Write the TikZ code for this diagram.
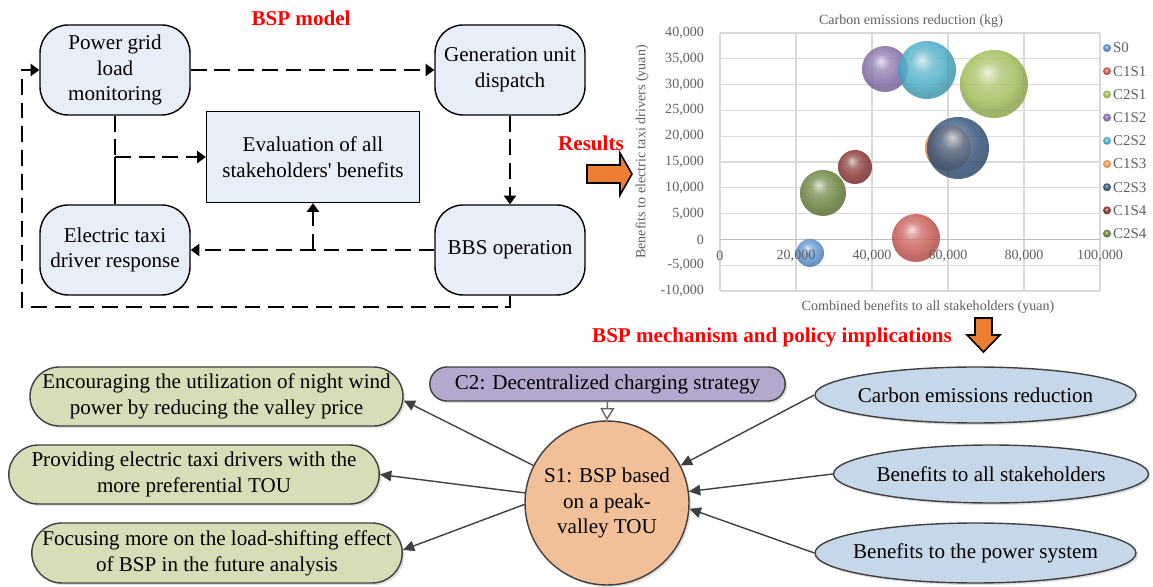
\documentclass[tikz,border=0pt]{standalone}
\usepackage{fontspec}
\setmainfont{Liberation Serif}[Ligatures=TeXOff]
\usetikzlibrary{arrows.meta,shapes.geometric,shapes.misc,shadows}

\definecolor{flowfill}{RGB}{232,238,248}
\definecolor{leaffill}{RGB}{214,221,183}
\definecolor{stratfill}{RGB}{180,168,206}
\definecolor{corefill}{RGB}{242,192,152}
\definecolor{ovalfill}{RGB}{197,215,233}
\definecolor{blockorange}{RGB}{237,125,49}
\definecolor{linkgray}{RGB}{64,64,64}
\definecolor{gridgray}{RGB}{217,217,217}
\definecolor{axisgray}{RGB}{191,191,191}
\definecolor{chartgray}{RGB}{96,96,96}
\definecolor{s0col}{RGB}{91,145,205}
\definecolor{c1s1col}{RGB}{200,90,86}
\definecolor{c2s1col}{RGB}{160,190,90}
\definecolor{c1s2col}{RGB}{135,110,170}
\definecolor{c2s2col}{RGB}{75,172,198}
\definecolor{c1s3col}{RGB}{240,150,70}
\definecolor{c2s3col}{RGB}{55,85,125}
\definecolor{c1s4col}{RGB}{135,55,52}
\definecolor{c2s4col}{RGB}{105,130,60}

% bubble shading, lighter than ball
\makeatletter
\pgfdeclareradialshading[tikz@ball]{bubble}{\pgfqpoint{-5bp}{9bp}}{%
  color(0bp)=(tikz@ball!25!white); color(9bp)=(tikz@ball!80!white);
  color(19bp)=(tikz@ball); color(25bp)=(tikz@ball!88!black);
  color(50bp)=(tikz@ball!88!black)}
\makeatother

\newcommand\nodefont{\fontsize{12}{14.7}\selectfont}

\tikzset{
  flowbox/.style={draw, line width=0.8pt, fill=flowfill, rounded corners=0.56cm,
    minimum width=3cm, minimum height=1.8cm, inner sep=1pt, align=center, font=\nodefont},
  evalbox/.style={draw, line width=0.8pt, fill=flowfill, minimum width=4.26cm,
    minimum height=1.82cm, inner sep=2pt, align=center, font=\nodefont},
  flowline/.style={line width=1.1pt, dash pattern=on 9pt off 4.5pt},
  flowtip/.style={-{Triangle[length=5pt,width=7pt]}},
  softshadow/.style={drop shadow={shadow xshift=1.2pt, shadow yshift=-1.2pt, opacity=0.25}},
  pill/.style={rounded rectangle, draw=linkgray, line width=0.8pt, softshadow,
    inner sep=1pt, align=center, font=\nodefont},
  oval/.style={ellipse, draw=linkgray, line width=0.8pt, fill=ovalfill, softshadow,
    inner xsep=-8pt, inner ysep=0pt, font=\nodefont},
  linkline/.style={draw=linkgray, line width=0.8pt, -{Triangle[length=6.5pt,width=6pt]}},
  redtitle/.style={text=red, font=\fontsize{12}{14}\selectfont\bfseries},
  blockarrow/.style={draw, line width=0.9pt, fill=blockorange, line join=miter},
  gridline/.style={draw=gridgray, line width=0.6pt},
  ticklabel/.style={text=chartgray, font=\fontsize{8}{9}\selectfont, inner sep=1pt},
  legendtext/.style={text=chartgray, font=\fontsize{8.5}{10}\selectfont, inner sep=1pt},
}

\begin{document}
\begin{tikzpicture}[x=0.02cm, y=-0.02cm]

    % the frame
    \useasboundingbox (0,0) rectangle (1153,587);

    % BSP model
    \node[redtitle] (modeltitle) at (301,18) {BSP model};
    \node[flowbox] (grid) at (115,70) {Power grid\\load\\monitoring};
    \node[flowbox] (unit) at (510,70) {Generation unit\\dispatch};
    \node[evalbox] (eval) at (313,157) {Evaluation of all\\stakeholders' benefits};
    \node[flowbox] (taxi) at (115,250) {Electric taxi\\driver response};
    \node[flowbox] (bbs) at (510,250) {BBS operation};

    \coordinate (split) at (grid.south |- eval.west);
    \coordinate (tap) at (eval.south |- bbs.west);
    \coordinate (loopcorner) at (22,307);

    \draw[flowline, flowtip] (grid.east) -- (unit.west);
    \draw[flowline, flowtip] (unit.south) -- (bbs.north);
    \draw[flowline, flowtip] (bbs.west) -- (taxi.east);
    \draw[flowline, flowtip] (tap) -- (eval.south);
    \draw[flowline] (grid.south) -- (split);
    \draw[flowline, flowtip] (split) -- (eval.west);
    \draw[line width=1.1pt] (taxi.north) -- (split);
    \draw[flowline, flowtip] (bbs.south) |- (loopcorner) |- (grid.west);

    % results
    \node[redtitle] (resultstitle) at (591,143) {Results};
    \draw[blockarrow] (587,165) -- (620,165) -- (620,153) -- (632,174)
        -- (620,195) -- (620,183) -- (587,183) -- cycle;

    % chart grid
    \foreach \k/\lab in {-2/-10,-1/-5,1/5,2/10,3/15,4/20,5/25,6/30,7/35,8/40} {
        \node[ticklabel, anchor=east] at (706,{239.4-25.8*\k}) {\lab,000};
    }
    \node[ticklabel, anchor=east] at (706,239.4) {0};
    \foreach \k in {-2,...,8} {
        \draw[gridline] (720,{239.4-25.8*\k}) -- (1100,{239.4-25.8*\k});
    }
    \foreach \k in {0,...,5} {
        \draw[gridline] ({720+76*\k},33) -- ({720+76*\k},291);
    }
    \draw[draw=axisgray, line width=0.7pt] (720,239.4) -- (1100,239.4);

    % bubbles
    \foreach \bx/\by/\br/\bc in {810/253/14/s0col, 916/238/24/c1s1col, 994/84/34/c2s1col,
        885/69/23/c1s2col, 927/70/29/c2s2col, 948/148/23/c1s3col, 958/148/31/c2s3col,
        855/167/17/c1s4col, 823/193/23/c2s4col} {
        \shade[ball color=\bc, shading=bubble, opacity=0.85] (\bx,\by) circle (\br);
    }

    % axis labels
    \node[ticklabel] at (720,256) {0};
    \foreach \k/\lab in {1/20,2/40,3/60,4/80,5/100} {
        \node[ticklabel] at ({720+76*\k},256) {\lab,000};
    }
    \node[ticklabel] (charttitle) at (911,21) {Carbon emissions reduction (kg)};
    \node[ticklabel] (xtitle) at (928,307) {Combined benefits to all stakeholders (yuan)};
    \node[ticklabel, rotate=90] (ytitle) at (642,152) {Benefits to electric taxi drivers (yuan)};

    % legend
    \foreach \bc/\lab [count=\i from 0] in {s0col/S0, c1s1col/C1S1, c2s1col/C2S1,
        c1s2col/C1S2, c2s2col/C2S2, c1s3col/C1S3, c2s3col/C2S3, c1s4col/C1S4, c2s4col/C2S4} {
        \shade[ball color=\bc, shading=bubble] (1107,{48+23.2*\i}) circle (4);
        \node[legendtext, anchor=west] (leg\i) at (1111,{48+23.2*\i}) {\lab};
    }

    % mechanism and policy implications
    \node[redtitle] (mechtitle) at (772,337) {BSP mechanism and policy implications};
    \draw[blockarrow] (975,318) -- (992,318) -- (992,335) -- (1000,335) -- (983.5,352)
        -- (967,335) -- (975,335) -- cycle;

    \node[pill, fill=leaffill, minimum width=7.46cm, minimum height=1.18cm] (wind)
        at (216.5,396.5) {Encouraging the utilization of night wind\\power by reducing the valley price};
    \node[pill, fill=leaffill, minimum width=7.48cm, minimum height=1.18cm] (provide)
        at (194,474.5) {Providing electric taxi drivers with the\\more preferential TOU};
    \node[pill, fill=leaffill, minimum width=7.48cm, minimum height=1.2cm] (focus)
        at (217,553) {Focusing more on the load-shifting effect\\of BSP in the future analysis};
    \node[pill, fill=stratfill, minimum width=7.18cm, minimum height=0.68cm] (strategy)
        at (607.5,384) {C2: Decentralized charging strategy};
    \node[circle, draw=linkgray, line width=0.8pt, fill=corefill, softshadow,
        minimum size=3.28cm, inner sep=0pt, align=center, font=\nodefont] (core)
        at (607,503) {S1: BSP based\\on a peak-\\valley TOU};
    \node[oval, minimum width=6.42cm, minimum height=1.12cm] (carbon)
        at (975.5,395) {Carbon emissions reduction};
    \node[oval, minimum width=6.3cm, minimum height=1.16cm] (allben)
        at (991,474) {Benefits to all stakeholders};
    \node[oval, minimum width=6.42cm, minimum height=1.2cm] (powerben)
        at (975.5,553) {Benefits to the power system};

    \draw[linkline] (core.153) -- ([yshift=-0.08cm]wind.east);
    \draw[linkline] (core.173) -- (provide.east);
    \draw[linkline] (core.181) -- ([yshift=0.06cm]focus.east);
    \draw[linkline] (carbon.west) -- (core.27);
    \draw[linkline] (allben.west) -- (core.8);
    \draw[linkline] (powerben.west) -- (core.-4);
    \draw[draw=linkgray!80, line width=0.8pt, -{Triangle[open, length=7pt, width=8pt]}]
        (strategy.south) -- (core.north);

\end{tikzpicture}
\end{document}
